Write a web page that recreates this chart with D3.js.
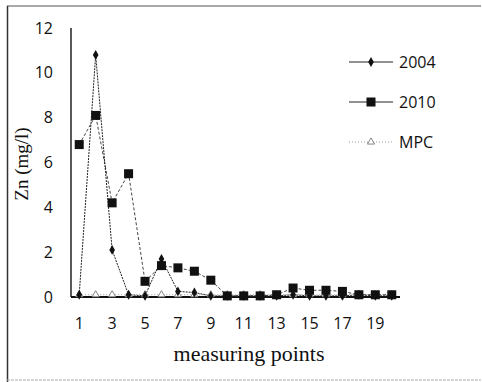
<!DOCTYPE html>
<html>
<head>
<meta charset="utf-8">
<script src="https://cdn.jsdelivr.net/npm/d3@7"></script>
<style>
  body { margin: 0; background: #fff; }
  svg { display: block; }
</style>
</head>
<body>
<svg id="chart" width="482" height="382"></svg>
<script>
// measuring points 1..20
const points = d3.range(1, 21);
const tickLabels = [1, 3, 5, 7, 9, 11, 13, 15, 17, 19];
const yTicks = [0, 2, 4, 6, 8, 10, 12];

const zn2004 = [0.1, 10.8, 2.1, 0.1, 0.05, 1.7, 0.25, 0.2, 0.05, 0.05,
                0.05, 0.05, 0.05, 0.1, 0.05, 0.05, 0.05, 0.1, 0.05, 0.05];
const zn2010 = [6.8, 8.1, 4.2, 5.5, 0.7, 1.4, 1.3, 1.15, 0.75, 0.05,
                0.05, 0.05, 0.1, 0.4, 0.3, 0.3, 0.25, 0.1, 0.1, 0.1];
const mpc = points.map(() => 0.1);

const svg = d3.select("#chart");
const margin = { top: 28, right: 82, bottom: 85, left: 71 };
const width = 482, height = 382;
const innerWidth = width - margin.left - margin.right;
const innerHeight = height - margin.top - margin.bottom;

// outer frame (scanned look)
svg.append("line").attr("x1", 7).attr("x2", 481).attr("y1", 6).attr("y2", 6)
  .attr("stroke", "#555").attr("stroke-width", 1.2);
svg.append("line").attr("x1", 7.5).attr("x2", 7.5).attr("y1", 6).attr("y2", 382)
  .attr("stroke", "#333").attr("stroke-width", 1.5);
svg.append("line").attr("x1", 7).attr("x2", 481).attr("y1", 380).attr("y2", 380)
  .attr("stroke", "#aaa").attr("stroke-width", 1).attr("stroke-dasharray", "3,1");

const g = svg.append("g").attr("transform", `translate(${margin.left}, ${margin.top})`);

const x = d3.scaleBand().domain(points).range([0, innerWidth]);
const xc = d => x(d) + x.bandwidth() / 2;
const y = d3.scaleLinear().domain([0, 12]).range([innerHeight, 0]);

// axis lines
g.append("line").attr("x1", 0).attr("x2", 0).attr("y1", y(12)).attr("y2", y(0))
  .attr("stroke", "#222").attr("stroke-width", 1.5);
g.append("line").attr("x1", 0).attr("x2", innerWidth).attr("y1", y(0)).attr("y2", y(0))
  .attr("stroke", "#111").attr("stroke-width", 2);

// tick labels
g.selectAll(".ytick").data(yTicks).join("text")
  .attr("class", "ytick")
  .attr("x", -18).attr("y", d => y(d)).attr("dy", "0.35em")
  .attr("text-anchor", "end")
  .attr("font-family", "Open Sans, sans-serif").attr("font-size", 16).attr("fill", "#111")
  .text(d => d);
g.selectAll(".xtick").data(tickLabels).join("text")
  .attr("class", "xtick")
  .attr("x", d => xc(d)).attr("y", innerHeight + 32)
  .attr("text-anchor", "middle")
  .attr("font-family", "Open Sans, sans-serif").attr("font-size", 16).attr("fill", "#111")
  .text(d => d);

const series = [
  { name: "2004", values: zn2004, stroke: "#222", dash: "2,1", width: 1, marker: "diamond" },
  { name: "2010", values: zn2010, stroke: "#444", dash: "3,2", width: 1, marker: "square" },
  { name: "MPC", values: mpc, stroke: "#999", dash: "1,2", width: 1, marker: "triangle" }
];

const line = d3.line().x((d, i) => xc(points[i])).y(d => y(d));

function drawMarker(sel, type, cx, cy) {
  if (type === "diamond") {
    sel.append("path").attr("d", d3.symbol(d3.symbolDiamond, 28)())
      .attr("transform", `translate(${cx},${cy})`).attr("fill", "#111");
  } else if (type === "square") {
    sel.append("rect").attr("x", cx - 4.5).attr("y", cy - 4.5).attr("width", 9).attr("height", 9)
      .attr("fill", "#111");
  } else {
    sel.append("path").attr("d", d3.symbol(d3.symbolTriangle, 22)())
      .attr("transform", `translate(${cx},${cy})`).attr("fill", "#fff").attr("stroke", "#777").attr("stroke-width", 0.9);
  }
}

// draw lines (MPC first so others sit above)
series.slice().reverse().forEach(s => {
  g.append("path").datum(s.values)
    .attr("d", line).attr("fill", "none")
    .attr("stroke", s.stroke).attr("stroke-width", s.width).attr("stroke-dasharray", s.dash);
});
series.slice().reverse().forEach(s => {
  const mg = g.append("g");
  s.values.forEach((v, i) => drawMarker(mg, s.marker, xc(points[i]), y(v)));
});

// legend
const legend = svg.append("g");
series.forEach((s, i) => {
  const ly = 62 + i * 40;
  legend.append("line").attr("x1", 349).attr("x2", 393).attr("y1", ly).attr("y2", ly)
    .attr("stroke", s.name === "MPC" ? "#999" : "#222").attr("stroke-width", 1)
    .attr("stroke-dasharray", s.name === "MPC" ? "1,2" : null);
  drawMarker(legend, s.marker, 371, ly);
  legend.append("text").attr("x", 399).attr("y", ly + 6)
    .attr("font-family", "Open Sans, sans-serif").attr("font-size", 16).attr("fill", "#111")
    .text(s.name);
});

// axis titles
svg.append("text").attr("transform", "translate(28, 164) rotate(-90)")
  .attr("text-anchor", "middle").attr("font-family", "Liberation Serif, serif")
  .attr("font-size", 19).attr("fill", "#111").text("Zn (mg/l)");
svg.append("text").attr("x", 249).attr("y", 361)
  .attr("text-anchor", "middle").attr("font-family", "Liberation Serif, serif")
  .attr("font-size", 22).attr("fill", "#111").text("measuring points");
</script>
</body>
</html>
